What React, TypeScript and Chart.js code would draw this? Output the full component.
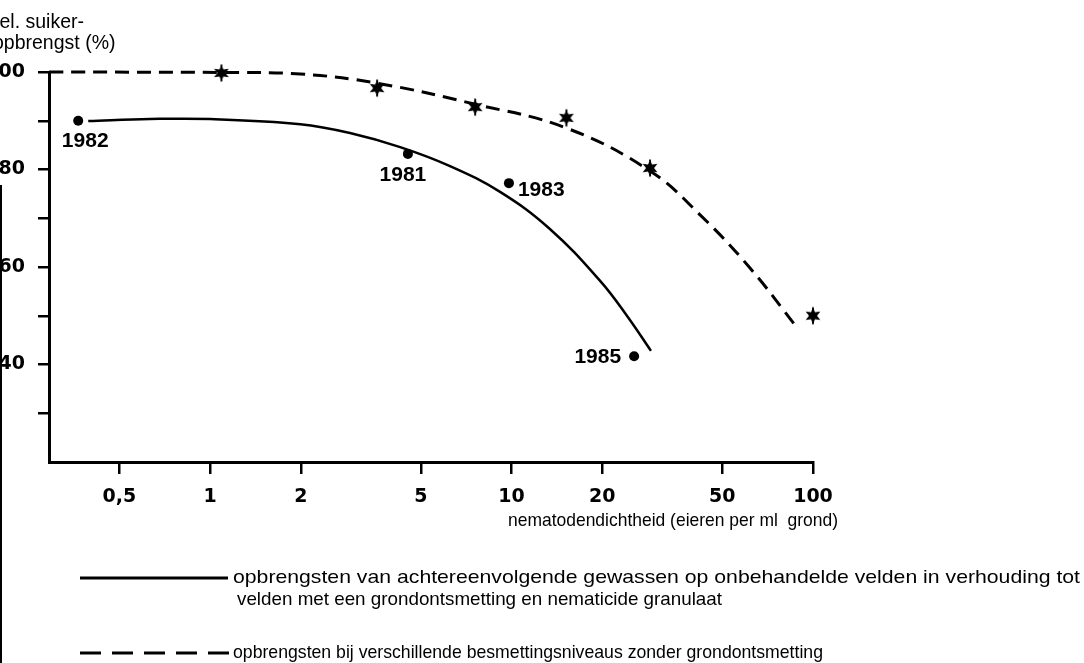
import React, { useEffect, useRef } from 'react';
import { Chart, registerables } from 'chart.js';

Chart.register(...registerables);

// ---- data ----
const xTickValues = [0.5, 1, 2, 5, 10, 20, 50, 100];
const xTickLabels = ['0,5', '1', '2', '5', '10', '20', '50', '100'];
const yTickValues = [30, 40, 50, 60, 70, 80, 90, 100];
const yTickLabels = ['', '40', '', '60', '', '80', '', '100'];

const solidCurveX = [0.394, 0.632, 1, 1.99, 2.91, 4.27, 6.25, 9.16, 13.4, 19.7, 24.2, 29.0];
const solidCurveY = [89.95, 90.35, 90.35, 89.3, 87.5, 84.6, 80.7, 75.4, 67.8, 57.1, 49.9, 42.8];

const dashedCurveX = [0.292, 1.09, 1.99, 3.58, 7.57, 15.2, 28.8, 42.2, 61.8, 89.2];
const dashedCurveY = [100, 99.9, 99.6, 97.7, 93.4, 88.5, 79.7, 70.7, 59.8, 47.3];

const yearLabels = ['1982', '1981', '1983', '1985'];
const yearX = [0.365, 4.53, 9.8, 25.5];
const yearY = [90, 83.2, 77.2, 41.7];

const starX = [1.09, 3.58, 7.57, 15.2, 28.8, 100];
const starY = [99.8, 96.7, 92.8, 90.6, 80.3, 50];

const yTitleLines = ['rel. suiker-', 'opbrengst (%)'];
const xTitle = 'nematodendichtheid (eieren per ml  grond)';
const legendSolid = [
  'opbrengsten van achtereenvolgende gewassen op onbehandelde velden in verhouding tot',
  'velden met een grondontsmetting en nematicide granulaat',
];
const legendDashed = 'opbrengsten bij verschillende besmettingsniveaus zonder grondontsmetting';

// ---- styling / layout ----
const SANS = '"Liberation Sans", Arial, Helvetica, sans-serif';
const TEXT_FONT = `18.5px ${SANS}`;
const yearLabelPlacement = [
  { dx: 7, dy: 20, align: 'center' },
  { dx: -5, dy: 21, align: 'center' },
  { dx: 9, dy: 7, align: 'left' },
  { dx: -13, dy: 1, align: 'right' },
];

function makeStar(): HTMLCanvasElement {
  const c = document.createElement('canvas');
  c.width = 20;
  c.height = 20;
  const g = c.getContext('2d')!;
  g.fillStyle = '#000';
  g.beginPath();
  for (let k = 0; k < 12; k++) {
    const r = k % 2 === 0 ? 8.5 : 4;
    const a = (-90 + k * 30) * Math.PI / 180;
    const px = 10 + r * Math.cos(a);
    const py = 10 + r * Math.sin(a);
    if (k === 0) g.moveTo(px, py); else g.lineTo(px, py);
  }
  g.closePath();
  g.fill();
  g.strokeStyle = '#000';
  g.lineWidth = 1.8;
  g.beginPath();
  g.moveTo(10, 1.5);
  g.lineTo(10, 18.5);
  g.stroke();
  return c;
}

function drawText(ctx: CanvasRenderingContext2D, text: string, x: number, y: number, font: string, width?: number, align: CanvasTextAlign = 'left', baseline: CanvasTextBaseline = 'alphabetic') {
  ctx.save();
  ctx.font = font;
  const w = ctx.measureText(text).width;
  const s = width ? width / w : 1;
  ctx.translate(x, y);
  ctx.scale(s, 1);
  ctx.textAlign = align;
  ctx.textBaseline = baseline;
  ctx.fillStyle = '#000';
  ctx.fillText(text, 0, 0);
  ctx.restore();
}

const annotationPlugin = {
  id: 'annotations',
  afterDraw(chart: any) {
    const ctx: CanvasRenderingContext2D = chart.ctx;
    // axis title (y)
    drawText(ctx, yTitleLines[0], -7, 28, `19.5px ${SANS}`);
    drawText(ctx, yTitleLines[1], -7, 49, `19.5px ${SANS}`);
    // axis title (x)
    drawText(ctx, xTitle, 508, 526, TEXT_FONT, 330);

    // year labels next to the dots
    const meta = chart.getDatasetMeta(2);
    meta.data.forEach((pt: any, i: number) => {
      const p = yearLabelPlacement[i];
      drawText(ctx, yearLabels[i], pt.x + p.dx, pt.y + p.dy, `bold 21px ${SANS}`, undefined, p.align as CanvasTextAlign, 'middle');
    });

    // legend samples
    ctx.save();
    ctx.strokeStyle = '#000';
    ctx.lineWidth = 3;
    ctx.beginPath();
    ctx.moveTo(80, 578);
    ctx.lineTo(228, 578);
    ctx.stroke();
    ctx.setLineDash([21, 11]);
    ctx.beginPath();
    ctx.moveTo(80, 653);
    ctx.lineTo(230, 653);
    ctx.stroke();
    ctx.restore();

    drawText(ctx, legendSolid[0], 233, 583, TEXT_FONT, 847);
    drawText(ctx, legendSolid[1], 237, 605, TEXT_FONT, 485);
    drawText(ctx, legendDashed, 233, 658, TEXT_FONT, 590);

    // scan edge at the left border
    ctx.save();
    ctx.fillStyle = '#000';
    ctx.fillRect(0, 185, 2, 478);
    ctx.restore();
  },
};

export default function App() {
  const ref = useRef<HTMLCanvasElement>(null);

  useEffect(() => {
    const canvas = ref.current!;
    const star = makeStar();
    const tickFont = { family: '"DejaVu Sans", sans-serif', size: 19, weight: 'bold' as const };
    const chart = new Chart(canvas, {
      type: 'line',
      data: {
        datasets: [
          {
            label: 'solid',
            data: solidCurveX.map((x, i) => ({ x, y: solidCurveY[i] })),
            borderColor: '#000',
            borderWidth: 2.5,
            pointRadius: 0,
            tension: 0.4,
            fill: false,
            clip: false as any,
          },
          {
            label: 'dashed',
            data: dashedCurveX.map((x, i) => ({ x, y: dashedCurveY[i] })),
            borderColor: '#000',
            borderWidth: 3,
            borderDash: [14, 8],
            pointRadius: 0,
            tension: 0.4,
            fill: false,
            clip: false as any,
          },
          {
            label: 'years',
            data: yearX.map((x, i) => ({ x, y: yearY[i] })),
            showLine: false,
            pointRadius: 5,
            pointBackgroundColor: '#000',
            pointBorderWidth: 0,
            borderColor: '#000',
            clip: false as any,
          },
          {
            label: 'stars',
            data: starX.map((x, i) => ({ x, y: starY[i] })),
            showLine: false,
            pointRadius: 8,
            pointStyle: star as any,
            borderColor: '#000',
            clip: false as any,
          },
        ],
      },
      options: {
        responsive: false,
        animation: false,
        events: [],
        layout: { padding: { left: 0, top: 72, right: 271, bottom: 0 } },
        plugins: { legend: { display: false }, tooltip: { enabled: false } },
        scales: {
          x: {
            type: 'logarithmic',
            min: 0.292,
            max: 100,
            afterBuildTicks: (s: any) => {
              s.ticks = xTickValues.map((v) => ({ value: v }));
            },
            afterFit: (s: any) => {
              s.height = 201;
            },
            ticks: {
              callback: (v: any) => {
                const i = xTickValues.indexOf(Number(v));
                return i >= 0 ? xTickLabels[i] : '';
              },
              font: tickFont,
              color: '#000',
              padding: 12,
              maxRotation: 0,
              autoSkip: false,
            },
            grid: { drawOnChartArea: false, drawTicks: true, tickLength: 12, color: '#000', lineWidth: 2.5 },
            border: { display: true, color: '#000', width: 3 },
          },
          y: {
            type: 'linear',
            min: 20,
            max: 100,
            afterBuildTicks: (s: any) => {
              s.ticks = yTickValues.map((v) => ({ value: v }));
            },
            afterFit: (s: any) => {
              s.width = 49;
            },
            ticks: {
              callback: (v: any) => {
                const i = yTickValues.indexOf(Number(v));
                return i >= 0 ? yTickLabels[i] : '';
              },
              font: tickFont,
              color: '#000',
              padding: 13,
              autoSkip: false,
            },
            grid: { drawOnChartArea: false, drawTicks: true, tickLength: 11, color: '#000', lineWidth: 2.5 },
            border: { display: true, color: '#000', width: 3 },
          },
        },
      },
      plugins: [annotationPlugin],
    });
    return () => chart.destroy();
  }, []);

  return (
    <div style={{ position: 'fixed', left: 0, top: 0, width: 1084, height: 663, background: '#fff' }}>
      <canvas ref={ref} width={1084} height={663} style={{ display: 'block', width: 1084, height: 663 }} />
    </div>
  );
}
